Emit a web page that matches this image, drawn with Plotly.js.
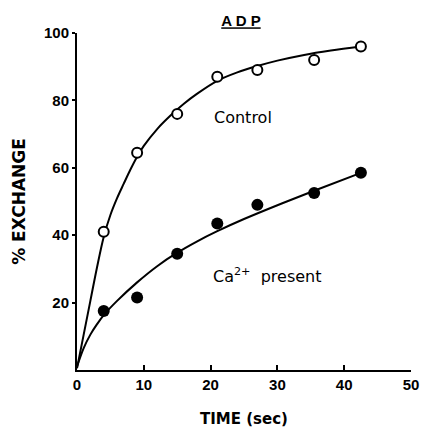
<!DOCTYPE html>
<html>
<head>
<meta charset="utf-8">
<script src="https://cdn.plot.ly/plotly-3.0.1.min.js"></script>
<style>html,body{margin:0;padding:0;background:#fff;}#chart{width:422px;height:430px;}</style>
</head>
<body>
<div id="chart"></div>
<script>
// Measured points
const timeControl = [4, 9, 15, 21, 27, 35.5, 42.5];
const exchControl = [41, 64.5, 76, 87, 89, 92, 96];
const timeCa = [4, 9, 15, 21, 27, 35.5, 42.5];
const exchCa = [17.5, 21.5, 34.5, 43.5, 49, 52.5, 58.5];
// Fitted curves
const fitTimeControl = [0, 1, 2, 3, 4, 5, 6, 7, 8, 9, 10, 12, 14, 16, 18, 21, 24, 27, 30, 34, 38, 42.5];
const fitExchControl = [0.5, 10.5, 20.5, 30.5, 39.5, 46, 51, 55.3, 59.5, 63.3, 66.5, 71.5, 75.5, 79, 82, 85.8, 88.3, 90.2, 91.8, 93.5, 94.8, 96];
const fitTimeCa = [0, 1, 2, 3, 4, 6, 9, 12, 15, 18, 21, 25, 30, 35.5, 42.5];
const fitExchCa = [1, 6.5, 10.5, 13.6, 16.3, 20.5, 26, 30.8, 34.8, 38.2, 41.2, 44.8, 48.9, 53.2, 58.5];
const xTicks = [0, 10, 20, 30, 40, 50];
const yTicks = [20, 40, 60, 80, 100];

const F = 'Liberation Sans, Arial, sans-serif';
const D = 'DejaVu Sans, sans-serif';
const traces = [
  {x: fitTimeControl, y: fitExchControl, mode: 'lines', line: {color: '#000', width: 2, shape: 'spline', smoothing: 1}, hoverinfo: 'skip', showlegend: false},
  {x: fitTimeCa, y: fitExchCa, mode: 'lines', line: {color: '#000', width: 2, shape: 'spline', smoothing: 1}, hoverinfo: 'skip', showlegend: false},
  {x: timeControl, y: exchControl, mode: 'markers', name: 'Control',
   marker: {symbol: 'circle', size: 10, color: '#fff', line: {color: '#000', width: 2}}, showlegend: false},
  {x: timeCa, y: exchCa, mode: 'markers', name: 'Ca2+ present',
   marker: {symbol: 'circle', size: 12, color: '#000', line: {color: '#000', width: 0}}, showlegend: false}
];

const layout = {
  width: 422, height: 430,
  margin: {l: 77, r: 11, t: 33, b: 60},
  paper_bgcolor: '#fff', plot_bgcolor: '#fff',
  showlegend: false,
  title: {text: '<b><span style="text-decoration:underline">A D P</span></b>', x: 0.571, xanchor: 'center', y: 0.951, yanchor: 'middle', font: {family: F, size: 15, color: '#000'}},
  xaxis: {
    range: [0, 50], tickvals: xTicks, ticktext: xTicks.map(String),
    showgrid: false, zeroline: false, showline: true, linecolor: '#000', linewidth: 2,
    ticks: 'inside', ticklen: 5, tickwidth: 2, tickcolor: '#000',
    tickfont: {family: F, size: 15, color: '#000', weight: 'bold'},
    title: {text: '<b>TIME (sec)</b>', font: {family: D, size: 15, color: '#000'}, standoff: 21}
  },
  yaxis: {
    range: [0, 100], tickvals: yTicks, ticktext: yTicks.map(String),
    showgrid: false, zeroline: false, showline: true, linecolor: '#000', linewidth: 2,
    ticks: 'outside', ticklen: 3, tickwidth: 2, tickcolor: '#000',
    tickfont: {family: F, size: 15, color: '#000', weight: 'bold'},
    title: {text: '<b>% EXCHANGE</b>', font: {family: D, size: 17, color: '#000'}, standoff: 14}
  },
  annotations: [
    {x: 20.2, y: 74.8, xref: 'x', yref: 'y', text: 'Control', showarrow: false, xanchor: 'left', yanchor: 'middle', font: {family: D, size: 16, color: '#000'}},
    {x: 20.1, y: 26.7, xref: 'x', yref: 'y', text: 'Ca<sup>2+</sup>  present', showarrow: false, xanchor: 'left', yanchor: 'bottom', yshift: -8, font: {family: D, size: 16, color: '#000'}}
  ]
};
Plotly.newPlot('chart', traces, layout, {displayModeBar: false, staticPlot: true});
</script>
</body>
</html>
